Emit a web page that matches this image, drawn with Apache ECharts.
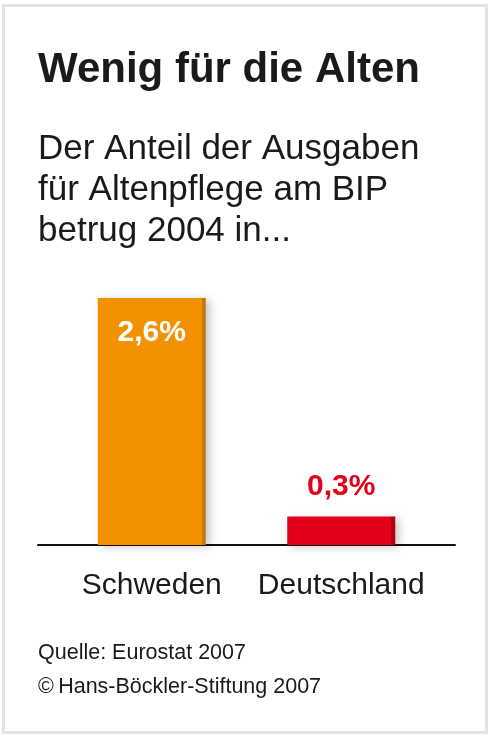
<!DOCTYPE html>
<html>
<head>
<meta charset="utf-8">
<script src="https://cdn.jsdelivr.net/npm/echarts@6/dist/echarts.min.js"></script>
<style>
html,body{margin:0;padding:0;background:#fff;}
#c{width:491px;height:737px;}
</style>
</head>
<body>
<div id="c"></div>
<script>
const categories = ['Schweden', 'Deutschland'];
const values = [2.6, 0.3];
const barColors = ['#f39200', '#e3001b'];
const edgeColors = ['#c47a08', '#b30016'];
const labelColors = ['#ffffff', '#e3001b'];
const titleText = 'Wenig für die Alten';
const subtitleLines = ['Der Anteil der Ausgaben', 'für Altenpflege am BIP', 'betrug 2004 in...'];
const sourceLines = ['Quelle: Eurostat 2007', '\u00a9\u2009Hans-Böckler-Stiftung 2007'];

const FONT = '"Liberation Sans", Arial, Helvetica, sans-serif';
const chart = echarts.init(document.getElementById('c'), null, {renderer: 'canvas'});

function fmt(v) { return String(v).replace('.', ',') + '%'; }

const data = values.map((v, i) => ({
  value: v,
  itemStyle: {
    color: new echarts.graphic.LinearGradient(0, 0, 1, 0, [
      {offset: 0, color: barColors[i]},
      {offset: 0.962, color: barColors[i]},
      {offset: 0.963, color: edgeColors[i]},
      {offset: 1, color: edgeColors[i]}
    ]),
    shadowColor: 'rgba(0,0,0,0.22)',
    shadowBlur: 8,
    shadowOffsetX: 4,
    shadowOffsetY: 2
  },
  label: {
    show: true,
    position: i === 0 ? 'insideTop' : 'top',
    distance: i === 0 ? 20 : 15,
    color: labelColors[i],
    fontSize: 30,
    fontWeight: 'bold',
    fontFamily: FONT,
    formatter: () => fmt(v)
  }
}));

const option = {
  animation: false,
  backgroundColor: '#ffffff',
  graphic: [{
    type: 'rect',
    shape: {x: 3.5, y: 5.5, width: 483, height: 727},
    style: {fill: 'none', stroke: '#e3e3e3', lineWidth: 3},
    silent: true
  }],
  title: [
    {
      text: titleText, left: 38, top: 49, padding: 0,
      textStyle: {fontSize: 42, fontWeight: 'bold', color: '#1a1a1a', fontFamily: FONT}
    },
    {
      text: subtitleLines.join('\n'), left: 38, top: 129, padding: 0,
      textStyle: {fontSize: 35, fontWeight: 'normal', color: '#1a1a1a', fontFamily: FONT, lineHeight: 41}
    },
    {
      text: sourceLines.join('\n'), left: 38, top: 636, padding: 0,
      textStyle: {fontSize: 21.5, fontWeight: 'normal', color: '#1a1a1a', fontFamily: FONT, lineHeight: 34}
    }
  ],
  grid: [
    {left: 57, right: 55, top: 298, bottom: 192},
    {left: 38, right: 36, top: 298, bottom: 192}
  ],
  xAxis: [
    {
      type: 'category', gridIndex: 0, data: categories,
      axisLine: {show: false}, axisTick: {show: false},
      axisLabel: {fontSize: 30, color: '#1a1a1a', fontFamily: FONT, margin: 26, interval: 0, hideOverlap: false}
    },
    {
      type: 'value', gridIndex: 1, min: 0, max: 1,
      axisLine: {show: true, lineStyle: {color: '#111111', width: 2}},
      axisTick: {show: false}, axisLabel: {show: false}, splitLine: {show: false}
    }
  ],
  yAxis: [
    {type: 'value', gridIndex: 0, min: 0, max: 2.6, show: false},
    {type: 'value', gridIndex: 1, min: 0, max: 1, show: false}
  ],
  series: [{
    type: 'bar',
    xAxisIndex: 0, yAxisIndex: 0,
    barWidth: 108,
    data: data
  }]
};
chart.setOption(option);
</script>
</body>
</html>
